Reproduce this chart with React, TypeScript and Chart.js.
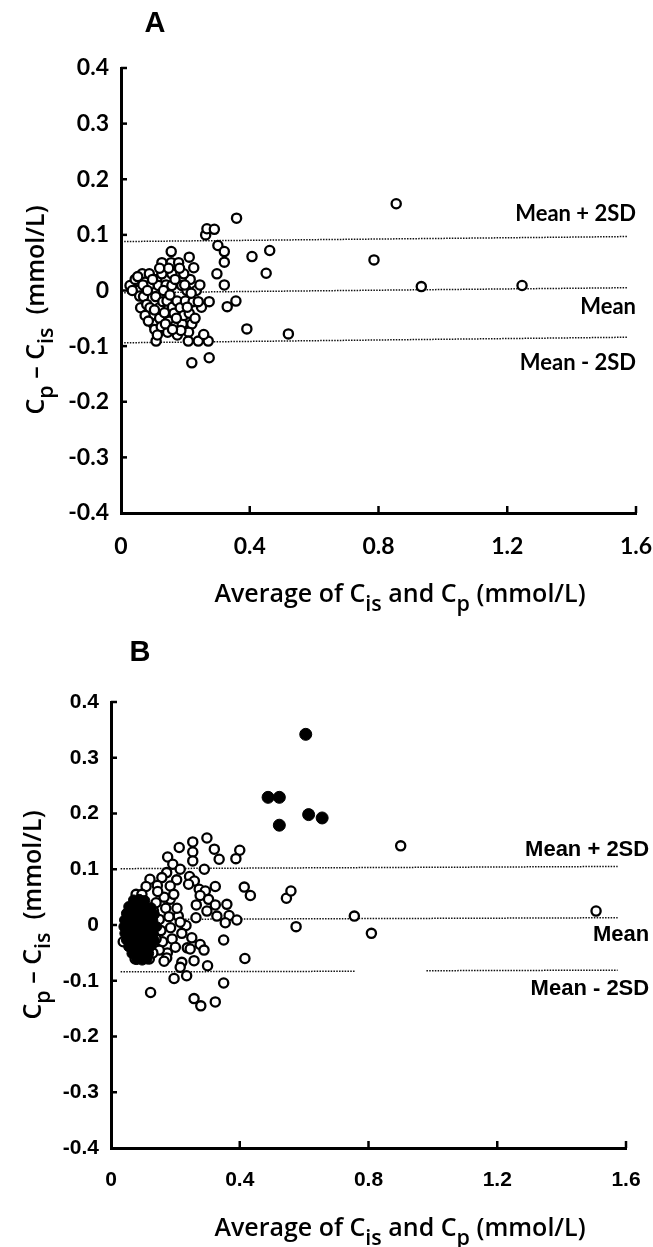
import React, { useEffect, useRef } from "react";
import { Chart, registerables } from "chart.js";
Chart.register(...registerables);

type P = [number, number];

const xTickValues = [0, 0.4, 0.8, 1.2, 1.6];
const xTickLabels = ["0", "0.4", "0.8", "1.2", "1.6"];
const yTickValues = [-0.4, -0.3, -0.2, -0.1, 0, 0.1, 0.2, 0.3, 0.4];
const yTickLabels = ["-0.4", "-0.3", "-0.2", "-0.1", "0", "0.1", "0.2", "0.3", "0.4"];
const refLabels = ["Mean + 2SD", "Mean", "Mean - 2SD"];

// ---------- Panel A ----------
const aCluster: P[] = [
  [0.028, 0.009], [0.044, 0.02], [0.05, 0.0], [0.058, -0.01], [0.066, 0.03], [0.07, -0.011],
  [0.061, -0.031], [0.075, 0.015], [0.08, -0.025], [0.088, 0.03], [0.088, 0.009], [0.09, -0.031],
  [0.095, -0.045], [0.1, -0.06], [0.105, -0.07], [0.109, -0.091], [0.108, -0.011], [0.111, 0.02],
  [0.116, 0.009], [0.119, -0.031], [0.12, -0.05], [0.125, -0.065], [0.127, 0.05], [0.127, 0.03],
  [0.13, -0.02], [0.135, -0.04], [0.14, 0.01], [0.143, -0.019], [0.145, -0.075], [0.15, -0.055],
  [0.156, 0.07], [0.156, 0.05], [0.158, 0.03], [0.158, 0.009], [0.16, -0.03], [0.165, -0.041],
  [0.17, -0.062], [0.174, -0.019], [0.175, -0.08], [0.179, 0.05], [0.184, -0.031], [0.189, 0.009],
  [0.19, -0.06], [0.195, -0.045], [0.2, -0.019], [0.205, 0.0], [0.212, 0.06], [0.212, -0.041],
  [0.215, 0.02], [0.22, -0.06], [0.224, -0.02], [0.226, 0.041], [0.234, 0.0], [0.25, -0.03],
  [0.274, -0.02], [0.195, 0.03], [0.21, -0.075],
  [0.035, 0.0], [0.052, 0.025], [0.068, 0.01], [0.082, 0.0], [0.098, 0.02], [0.104, -0.035],
  [0.113, -0.08], [0.132, 0.0], [0.138, -0.06], [0.148, 0.04], [0.152, -0.008], [0.168, 0.02],
  [0.172, -0.05], [0.182, 0.04], [0.186, -0.072], [0.198, 0.01], [0.206, -0.03], [0.218, -0.005],
  [0.23, -0.05], [0.24, -0.02], [0.245, 0.01], [0.16, -0.07], [0.12, 0.04], [0.075, -0.045],
  [0.085, -0.055],
];
const aOutliers: P[] = [
  [0.209, -0.091], [0.24, -0.091], [0.271, -0.091], [0.257, -0.079], [0.22, -0.13], [0.274, -0.121],
  [0.263, 0.1], [0.267, 0.111], [0.29, 0.11], [0.301, 0.081], [0.321, 0.07], [0.321, 0.051],
  [0.298, 0.03], [0.321, 0.01], [0.357, -0.019], [0.33, -0.029], [0.359, 0.13], [0.407, 0.061],
  [0.462, 0.072], [0.451, 0.031], [0.391, -0.069], [0.52, -0.078], [0.786, 0.055], [0.855, 0.156],
  [0.933, 0.007], [1.246, 0.009],
];
const aLineX = [0.01, 1.575];
const aUpper = [0.088, 0.097];
const aMean = [-0.004, 0.005];
const aLower = [-0.094, -0.084];
const aLabelX = 1.6;
const aLabelY = [0.137, -0.029, -0.131];

// ---------- Panel B ----------
const bOpen: P[] = [
  [0.9, 0.142], [0.756, 0.016], [0.809, -0.015], [1.507, 0.025], [0.575, -0.003], [0.545, 0.048],
  [0.559, 0.061], [0.416, -0.06], [0.433, 0.053], [0.414, 0.068],
  [0.298, 0.156], [0.254, 0.149], [0.254, 0.131], [0.254, 0.115], [0.212, 0.139], [0.321, 0.136],
  [0.336, 0.118], [0.4, 0.134], [0.388, 0.119], [0.176, 0.122], [0.192, 0.109], [0.215, 0.1],
  [0.29, 0.1], [0.244, 0.087], [0.173, 0.094], [0.121, 0.082], [0.158, 0.085], [0.204, 0.081],
  [0.259, 0.079], [0.324, 0.069], [0.109, 0.069], [0.144, 0.071], [0.184, 0.07], [0.241, 0.073],
  [0.274, 0.064], [0.293, 0.061], [0.277, 0.053], [0.303, 0.046], [0.184, 0.046], [0.265, 0.036],
  [0.324, 0.036], [0.36, 0.037], [0.298, 0.025], [0.329, 0.016], [0.367, 0.017], [0.355, 0.004],
  [0.391, 0.009], [0.264, 0.013], [0.209, 0.016], [0.233, -0.001], [0.251, -0.023], [0.35, -0.027],
  [0.237, -0.041], [0.277, -0.035], [0.289, -0.045], [0.246, -0.043], [0.175, -0.05], [0.173, -0.059],
  [0.258, -0.064], [0.22, -0.067], [0.3, -0.073], [0.215, -0.076], [0.196, -0.096], [0.235, -0.091],
  [0.35, -0.104], [0.123, -0.121], [0.258, -0.132], [0.279, -0.145], [0.324, -0.138], [0.119, -0.061],
  [0.078, 0.055], [0.096, 0.055], [0.038, -0.03], [0.075, -0.061], [0.132, 0.025], [0.14, 0.04],
  [0.15, 0.01], [0.155, -0.01], [0.16, -0.03], [0.15, -0.045], [0.165, 0.05], [0.17, 0.03],
  [0.18, 0.015], [0.185, -0.005], [0.19, -0.025], [0.195, 0.055], [0.2, -0.04], [0.145, 0.06],
  [0.13, -0.05], [0.165, -0.065], [0.205, 0.03], [0.215, 0.005], [0.22, -0.015], [0.14, -0.025],
];
const bHighFilled: P[] = [
  [0.605, 0.342], [0.488, 0.229], [0.523, 0.229], [0.523, 0.179], [0.614, 0.198], [0.656, 0.192],
];
const bClusterFilled: P[] = [
  [0.07, 0.045], [0.088, 0.046], [0.105, 0.044],
  [0.055, 0.033], [0.072, 0.034], [0.09, 0.032], [0.108, 0.033], [0.125, 0.031],
  [0.048, 0.021], [0.065, 0.022], [0.082, 0.02], [0.1, 0.021], [0.118, 0.02], [0.135, 0.019],
  [0.042, 0.009], [0.06, 0.01], [0.078, 0.008], [0.095, 0.009], [0.113, 0.01], [0.13, 0.008],
  [0.04, -0.003], [0.057, -0.002], [0.075, -0.004], [0.092, -0.003], [0.11, -0.002], [0.128, -0.004], [0.142, -0.003],
  [0.043, -0.015], [0.06, -0.014], [0.078, -0.016], [0.096, -0.015], [0.114, -0.014], [0.132, -0.016],
  [0.048, -0.027], [0.065, -0.026], [0.083, -0.028], [0.1, -0.027], [0.118, -0.026], [0.135, -0.028],
  [0.055, -0.039], [0.072, -0.038], [0.09, -0.04], [0.107, -0.039], [0.124, -0.038],
  [0.065, -0.051], [0.082, -0.05], [0.1, -0.052], [0.117, -0.051],
  [0.08, -0.062], [0.097, -0.063], [0.112, -0.061],
];
const bLineX = [0.03, 1.574];
const bUpper = [0.101, 0.105];
const bMean = [0.01, 0.013];
const bLowerX = [0.03, 0.76, 0.87, 0.98, 1.574];
const bLower: (number | null)[] = [-0.084, -0.083, null, -0.082, -0.081];
const bLabelX = 1.672;
const bLabelY = [0.135, -0.018, -0.115];

type Seg = { t: string; sub?: boolean };
const xTitleSegs: Seg[] = [
  { t: "Average of C" }, { t: "is", sub: true }, { t: " and C" }, { t: "p", sub: true }, { t: " (mmol/L)" },
];
const yTitleSegs: Seg[] = [
  { t: "C" }, { t: "p", sub: true }, { t: " \u2013 C" }, { t: "is", sub: true }, { t: "  (mmol/L)" },
];

function drawRich(ctx: CanvasRenderingContext2D, segs: Seg[], x: number, y: number, size: number, family: string, weight: string) {
  const subSize = size * 0.86;
  const widths = segs.map((s) => {
    ctx.font = `${weight} ${s.sub ? subSize : size}px ${family}`;
    return ctx.measureText(s.t).width;
  });
  const total = widths.reduce((a, b) => a + b, 0);
  let cx = x - total / 2;
  ctx.textAlign = "left";
  ctx.textBaseline = "alphabetic";
  segs.forEach((s, i) => {
    ctx.font = `${weight} ${s.sub ? subSize : size}px ${family}`;
    ctx.fillText(s.t, cx, s.sub ? y + size * 0.34 : y);
    cx += widths[i];
  });
}

interface PanelCfg {
  width: number;
  height: number;
  top: number;
  area: { left: number; top: number; right: number; bottom: number };
  letter: string;
  letterPos: [number, number];
  letterFont: string;
  tickFont: { family: string; size: number; weight: any };
  titleFamily: string;
  titleSize: number;
  titleWeight: string;
  xTitlePos: [number, number];
  yTitlePos: [number, number];
  labelFont: string;
  labelX: number;
  labelY: number[];
  open: P[];
  filled: { pts: P[]; r: number }[];
  lines: { x: number[]; y: (number | null)[] }[];
}

const panelA: PanelCfg = {
  width: 653, height: 623, top: 0,
  area: { left: 121, top: 68, right: 636, bottom: 513 },
  letter: "A", letterPos: [155, 32], letterFont: "bold 29px 'Liberation Sans'",
  tickFont: { family: "Lato", size: 23, weight: "bold" },
  titleFamily: "'Open Sans'", titleSize: 25, titleWeight: "600",
  xTitlePos: [400, 602], yTitlePos: [44, 310],
  labelFont: "bold 22px Lato", labelX: aLabelX, labelY: aLabelY,
  open: [...aCluster, ...aOutliers],
  filled: [],
  lines: [
    { x: aLineX, y: aUpper },
    { x: aLineX, y: aMean },
    { x: aLineX, y: aLower },
  ],
};

const panelB: PanelCfg = {
  width: 653, height: 624, top: 623,
  area: { left: 111, top: 79, right: 626, bottom: 525 },
  letter: "B", letterPos: [140, 38], letterFont: "bold 29px 'Liberation Sans'",
  tickFont: { family: "'Liberation Sans'", size: 21, weight: "bold" },
  titleFamily: "'Open Sans'", titleSize: 25, titleWeight: "600",
  xTitlePos: [400, 613], yTitlePos: [41, 292],
  labelFont: "bold 22px 'Liberation Sans'", labelX: bLabelX, labelY: bLabelY,
  open: bOpen,
  filled: [
    { pts: bClusterFilled, r: 5 },
    { pts: bHighFilled, r: 6 },
  ],
  lines: [
    { x: bLineX, y: bUpper },
    { x: bLineX, y: bMean },
    { x: bLowerX, y: bLower },
  ],
};

function Panel({ cfg }: { cfg: PanelCfg }) {
  const ref = useRef<HTMLCanvasElement>(null);
  useEffect(() => {
    const canvas = ref.current!;
    const { width: W, height: H, area } = cfg;
    const yW = 70;
    const padB = 4;
    const xH = H - area.bottom - padB;

    const datasets: any[] = [];
    cfg.filled.forEach((f) =>
      datasets.push({
        type: "scatter",
        data: f.pts.map(([x, y]) => ({ x, y })),
        pointRadius: f.r,
        pointBackgroundColor: "#000",
        pointBorderColor: "#000",
        pointBorderWidth: 1,
        order: 0,
        clip: false,
      })
    );
    datasets.push({
      type: "scatter",
      data: cfg.open.map(([x, y]) => ({ x, y })),
      pointRadius: 4.6,
      pointBackgroundColor: "#fff",
      pointBorderColor: "#000",
      pointBorderWidth: 2.3,
      order: 1,
      clip: false,
    });
    cfg.lines.forEach((l) =>
      datasets.push({
        type: "line",
        data: l.x.map((x, i) => ({ x, y: l.y[i] })),
        borderColor: "#111",
        borderWidth: 1.5,
        borderDash: [1.5, 1.3],
        pointRadius: 0,
        spanGaps: false,
        fill: false,
        order: 5,
      })
    );

    const deco = {
      id: "deco",
      afterDraw(chart: any) {
        const { ctx, chartArea } = chart;
        const xs = chart.scales.x;
        const ys = chart.scales.y;
        ctx.save();
        ctx.strokeStyle = "#000";
        ctx.lineWidth = 2.5;
        yTickValues.forEach((v) => {
          if (v === -0.4) return;
          const py = ys.getPixelForValue(v);
          ctx.beginPath();
          ctx.moveTo(chartArea.left, py);
          ctx.lineTo(chartArea.left + 6, py);
          ctx.stroke();
        });
        xTickValues.forEach((v) => {
          if (v === 0) return;
          const px = xs.getPixelForValue(v);
          ctx.beginPath();
          ctx.moveTo(px, chartArea.bottom);
          ctx.lineTo(px, chartArea.bottom - 7);
          ctx.stroke();
        });
        ctx.fillStyle = "#000";
        ctx.font = cfg.letterFont;
        ctx.textAlign = "center";
        ctx.textBaseline = "alphabetic";
        ctx.fillText(cfg.letter, cfg.letterPos[0], cfg.letterPos[1]);
        ctx.font = cfg.labelFont;
        ctx.textAlign = "right";
        ctx.textBaseline = "middle";
        refLabels.forEach((t, i) => {
          ctx.fillText(t, xs.getPixelForValue(cfg.labelX), ys.getPixelForValue(cfg.labelY[i]));
        });
        drawRich(ctx, xTitleSegs, cfg.xTitlePos[0], cfg.xTitlePos[1], cfg.titleSize, cfg.titleFamily, cfg.titleWeight);
        ctx.save();
        ctx.translate(cfg.yTitlePos[0], cfg.yTitlePos[1]);
        ctx.rotate(-Math.PI / 2);
        drawRich(ctx, yTitleSegs, 0, 0, cfg.titleSize, cfg.titleFamily, cfg.titleWeight);
        ctx.restore();
        ctx.restore();
      },
    };

    const chart = new Chart(canvas, {
      type: "scatter",
      data: { datasets },
      options: {
        animation: false,
        responsive: false,
        maintainAspectRatio: false,
        layout: {
          padding: { left: area.left - yW, top: area.top, right: W - area.right, bottom: padB },
        },
        plugins: { legend: { display: false }, tooltip: { enabled: false } },
        scales: {
          x: {
            type: "linear",
            min: 0,
            max: 1.6,
            afterBuildTicks: (s: any) => {
              s.ticks = xTickValues.map((v) => ({ value: v }));
            },
            afterFit: (s: any) => {
              s.height = xH;
              s.paddingLeft = 0;
              s.paddingRight = 0;
            },
            ticks: {
              callback: (_v: any, i: number) => xTickLabels[i],
              font: cfg.tickFont,
              color: "#000",
              padding: 20,
              maxRotation: 0,
              autoSkip: false,
            },
            grid: { display: false, drawTicks: false },
            border: { display: true, color: "#000", width: 3 },
          },
          y: {
            type: "linear",
            min: -0.4,
            max: 0.4,
            afterBuildTicks: (s: any) => {
              s.ticks = yTickValues.map((v) => ({ value: v }));
            },
            afterFit: (s: any) => {
              s.width = yW;
              s.paddingTop = 0;
              s.paddingBottom = 0;
            },
            ticks: {
              callback: (_v: any, i: number) => yTickLabels[i],
              font: cfg.tickFont,
              color: "#000",
              padding: 12,
              autoSkip: false,
            },
            grid: { display: false, drawTicks: false },
            border: { display: true, color: "#000", width: 3 },
          },
        },
      },
      plugins: [deco],
    } as any);
    return () => chart.destroy();
  }, [cfg]);
  return (
    <canvas
      ref={ref}
      width={cfg.width}
      height={cfg.height}
      style={{ position: "absolute", left: 0, top: cfg.top, width: cfg.width, height: cfg.height }}
    />
  );
}

export default function App() {
  return (
    <div style={{ position: "absolute", left: 0, top: 0, width: 653, height: 1247, background: "#fff", overflow: "hidden" }}>
      <Panel cfg={panelA} />
      <Panel cfg={panelB} />
    </div>
  );
}
